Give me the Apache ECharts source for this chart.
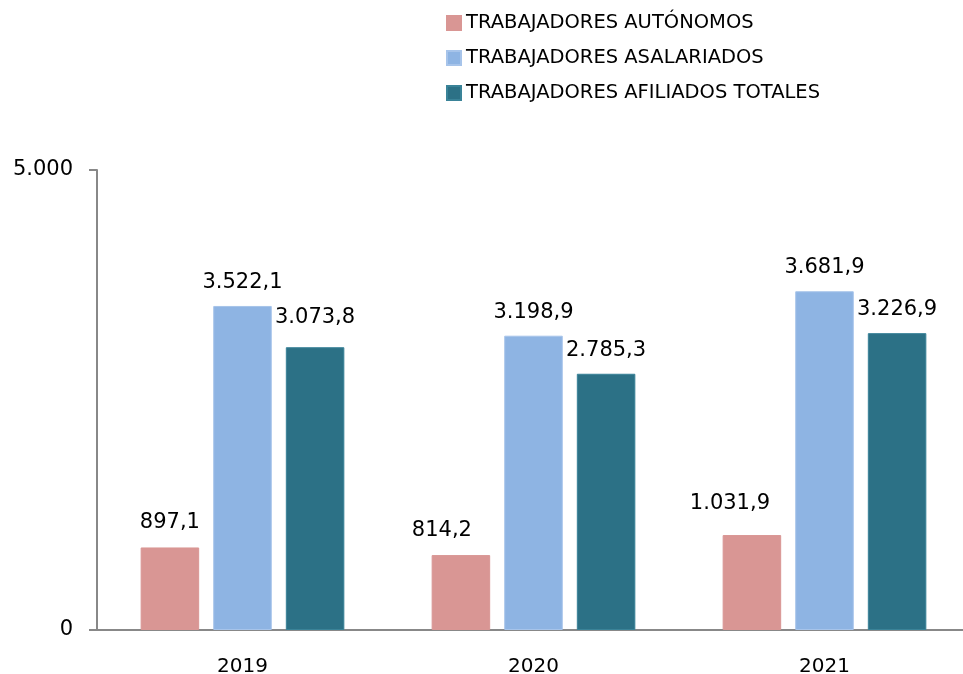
<!DOCTYPE html>
<html><head><meta charset="utf-8">
<script src="https://cdn.jsdelivr.net/npm/echarts@6/dist/echarts.min.js"></script>
<style>html,body{margin:0;padding:0;background:#fff}#c{width:963px;height:674px}</style>
</head><body><div id="c"></div>
<script>
var categories = ['2019', '2020', '2021'];
var seriesNames = ['TRABAJADORES AUTÓNOMOS', 'TRABAJADORES ASALARIADOS', 'TRABAJADORES AFILIADOS TOTALES'];
var autonomos = [897.1, 814.2, 1031.9];
var asalariados = [3522.1, 3198.9, 3681.9];
var totales = [3073.8, 2785.3, 3226.9];
var yTicks = [0, 5000];

function fmt(v) {
  var parts = v.toFixed(1).split('.');
  var intPart = parts[0].replace(/\B(?=(\d{3})+(?!\d))/g, '.');
  return intPart + ',' + parts[1];
}
function fmtInt(v) { return String(v).replace(/\B(?=(\d{3})+(?!\d))/g, '.'); }

var FONT = 'DejaVu Sans';
var chart = echarts.init(document.getElementById('c'), null, {renderer: 'canvas'});
var colors = ['#D99694', '#8EB4E3', '#2C7186'];
var borders = ['#D99694', '#A7C4EA', '#3A8398'];
var datas = [autonomos, asalariados, totales];
var labelDist = [14, 13, 13];
// manual label nudges (style only), per series per category
var labelNudges = [
  [[0, 0], [-19, 0], [-22, -7]],
  [[0, 0], [0, 0], [0, 0]],
  [[0, -6], [0, 0], [0, 0]]
];

chart.setOption({
  animation: false,
  legend: {
    orient: 'vertical',
    left: 441, top: 8,
    itemWidth: 14, itemHeight: 14, itemGap: 15,
    icon: 'rect',
    textStyle: {fontFamily: FONT, fontSize: 19.5, color: '#000', padding: [0, 0, 0, 0]},
    data: seriesNames
  },
  grid: {left: 97, top: 170, height: 460, width: 873, containLabel: false, outerBoundsMode: 'none'},
  xAxis: {
    type: 'category', data: categories,
    axisLine: {lineStyle: {color: '#888888', width: 2}},
    axisTick: {show: false},
    axisLabel: {fontFamily: FONT, fontSize: 20, color: '#000', margin: 27}
  },
  yAxis: {
    type: 'value', min: yTicks[0], max: yTicks[1], interval: 5000,
    axisLine: {show: true, lineStyle: {color: '#888888', width: 2}},
    axisTick: {show: true, length: 8, lineStyle: {color: '#888888', width: 2}},
    splitLine: {show: false},
    axisLabel: {fontFamily: FONT, fontSize: 21, color: '#000', margin: 24, formatter: fmtInt}
  },
  series: seriesNames.map(function (n, i) {
    return {
      name: n, type: 'bar',
      data: datas[i].map(function (v, j) {
        return {value: v, label: {offset: labelNudges[i][j]}};
      }),
      barGap: '24%', barCategoryGap: '30%',
      itemStyle: {color: colors[i], borderColor: borders[i], borderWidth: 1},
      label: {
        show: true, position: 'top', distance: labelDist[i],
        fontFamily: FONT, fontSize: 21, color: '#000',
        formatter: function (p) { return fmt(p.value); }
      }
    };
  })
});
</script></body></html>
